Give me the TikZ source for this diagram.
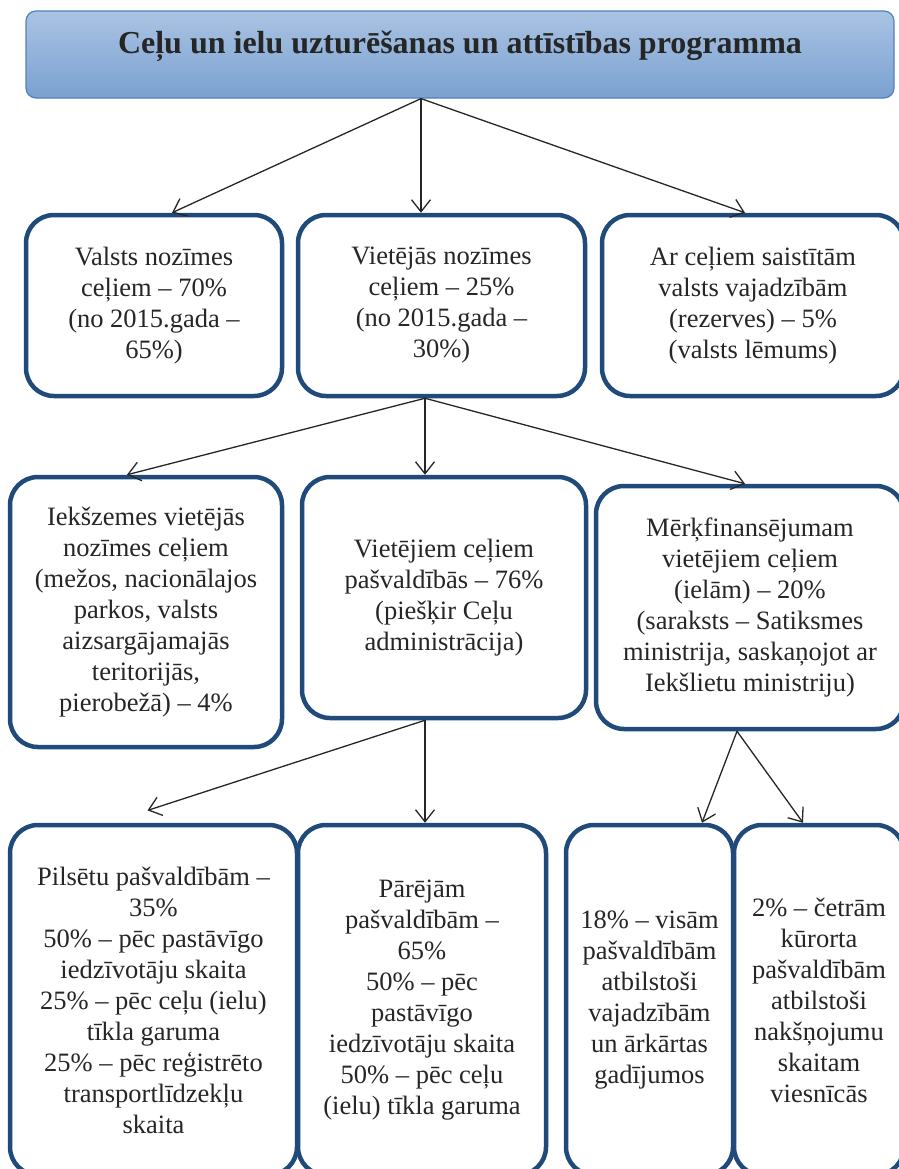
\documentclass[tikz,border=0pt]{standalone}
\usepackage{fontspec}
\setmainfont{Liberation Serif}
\usetikzlibrary{arrows.meta}

\newlength{\du}
\setlength{\du}{1bp}

\definecolor{boxline}{rgb}{0.122000, 0.290000, 0.475000}
\definecolor{headline}{rgb}{0.310000, 0.506000, 0.741000}
\definecolor{headtop}{rgb}{0.667000, 0.765000, 0.890000}
\definecolor{headbottom}{rgb}{0.478000, 0.631000, 0.820000}
\definecolor{textgray}{rgb}{0.150000, 0.150000, 0.150000}

\tikzset{
  headbox/.style={draw=headline, line width=1.2\du, rounded corners=10\du,
    top color=headtop, bottom color=headbottom, text=textgray,
    font=\fontsize{32\du}{38\du}\selectfont\bfseries},
  partbox/.style={draw=boxline, line width=4.5\du, rounded corners=28\du,
    fill=white, align=center, text=textgray, inner sep=0pt,
    font=\fontsize{26.5\du}{31\du}\selectfont},
  link/.style={draw=textgray, line width=1.3\du,
    -{Straight Barb[length=12bp,width=19bp]}}
}

\begin{document}
\begin{tikzpicture}
\pgftransformxscale{1.000000}
\pgftransformyscale{-1.000000}
\useasboundingbox (0\du,0\du) rectangle (899\du,1169\du);
\clip (0\du,0\du) rectangle (899\du,1169\du);
% programme
\node[headbox, minimum width=868\du, minimum height=87\du, text depth=25\du] (prog) at (460\du,54.5\du){Ceļu un ielu uzturēšanas un attīstības programma};
% first level
\node[partbox, minimum width=256\du, minimum height=181\du] (valsts) at (154\du,305.5\du){Valsts nozīmes\\ceļiem – 70\%\\(no 2015.gada –\\65\%)};
\node[partbox, minimum width=287\du, minimum height=181\du] (vietejas) at (441.5\du,305.5\du){Vietējās nozīmes\\ceļiem – 25\%\\(no 2015.gada –\\30\%)};
\node[partbox, minimum width=302\du, minimum height=181\du] (rezerves) at (753\du,305.5\du){Ar ceļiem saistītām\\valsts vajadzībām\\(rezerves) – 5\%\\(valsts lēmums)};
% second level
\node[partbox, minimum width=272\du, minimum height=270\du] (iekszemes) at (146\du,612\du){Iekšzemes vietējās\\nozīmes ceļiem\\(mežos, nacionālajos\\parkos, valsts\\aizsargājamajās\\teritorijās,\\pierobežā) – 4\%};
\node[partbox, minimum width=284\du, minimum height=241\du] (pasvald) at (444\du,597.5\du){Vietējiem ceļiem\\pašvaldībās – 76\%\\(piešķir Ceļu\\administrācija)};
\node[partbox, minimum width=308\du, minimum height=243\du] (merkfin) at (750\du,607.5\du){Mērķfinansējumam\\vietējiem ceļiem\\(ielām) – 20\%\\(saraksts – Satiksmes\\ministrija, saskaņojot ar\\Iekšlietu ministriju)};
% third level
\node[partbox, minimum width=287\du, minimum height=350\du] (pilsetu) at (153.5\du,1000\du){Pilsētu pašvaldībām –\\35\%\\50\% – pēc pastāvīgo\\iedzīvotāju skaita\\25\% – pēc ceļu (ielu)\\tīkla garuma\\25\% – pēc reģistrēto\\transportlīdzekļu\\skaita};
\node[partbox, minimum width=248\du, minimum height=350\du] (parejam) at (422\du,1000\du){Pārējām\\pašvaldībām –\\65\%\\50\% – pēc\\pastāvīgo\\iedzīvotāju skaita\\50\% – pēc ceļu\\(ielu) tīkla garuma};
\node[partbox, minimum width=167\du, minimum height=350\du] (visam) at (649.5\du,1000\du){18\% – visām\\pašvaldībām\\atbilstoši\\vajadzībām\\un ārkārtas\\gadījumos};
\node[partbox, minimum width=170\du, minimum height=350\du] (kurorta) at (819\du,1000\du){2\% – četrām\\kūrorta\\pašvaldībām\\atbilstoši\\nakšņojumu\\skaitam\\viesnīcās};
% connectors
\draw[link] ([xshift=-39\du]prog.south)--([xshift=18\du]valsts.north);
\draw[link] ([xshift=-39\du]prog.south)--([xshift=-20.5\du]vietejas.north);
\draw[link] ([xshift=-39\du]prog.south)--([xshift=-8\du]rezerves.north);
\draw[link] ([xshift=-16.5\du]vietejas.south)--([xshift=-19\du]iekszemes.north);
\draw[link] ([xshift=-16.5\du]vietejas.south)--([xshift=-19\du]pasvald.north);
\draw[link] ([xshift=-16.5\du]vietejas.south)--([xshift=-5\du]merkfin.north);
\draw[link, shorten >=40\du] ([xshift=-19\du]pasvald.south)--([xshift=-44\du]pilsetu.north);
\draw[link] ([xshift=-19\du]pasvald.south)--([xshift=3\du]parejam.north);
\draw[link] ([xshift=-13\du]merkfin.south)--([xshift=52.5\du]visam.north);
\draw[link] ([xshift=-13\du]merkfin.south)--([xshift=-16\du]kurorta.north);
\end{tikzpicture}
\end{document}
